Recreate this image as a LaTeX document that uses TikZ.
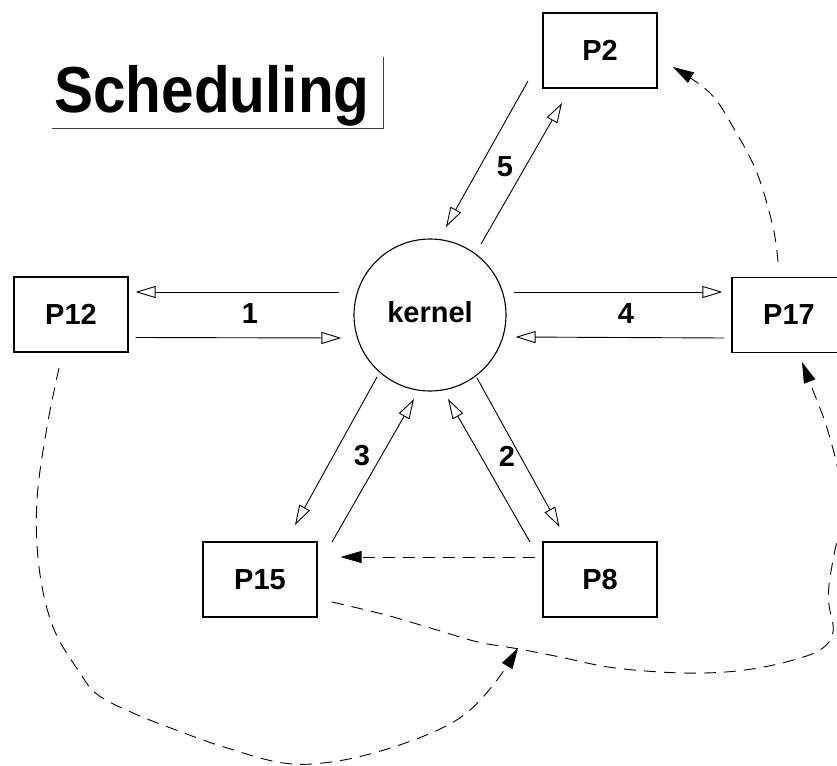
\documentclass[tikz,border=0pt]{standalone}
\usepackage{fontspec}
\setmainfont{Liberation Sans}
\usetikzlibrary{arrows.meta,calc}
\newcommand\lblfnt{\fontsize{29}{29}\selectfont\bfseries}
\newcommand\ttlfnt{\fontsize{65}{65}\selectfont\bfseries}
\begin{document}
\begin{tikzpicture}[x=1pt,y=-1pt,
  box/.style={draw, line width=1.1pt, minimum width=114pt, minimum height=75pt, inner sep=0pt, font=\lblfnt},
  lbl/.style={inner sep=0pt, font=\lblfnt},
  oarr/.style={line width=0.9pt, -{Triangle[open, length=20pt, width=12pt, line width=0.9pt]}},
  darr/.style={line width=0.9pt, dash pattern=on 12pt off 8pt, -{Triangle[length=21pt, width=12pt]}}]
\fill[white] (0,0) rectangle (837,765);
\useasboundingbox (0,0) rectangle (837,765);
\clip (0,0) rectangle (837,765);

% title
\node[anchor=base west, inner sep=0pt, font=\ttlfnt] (title) at (54,113) {\scalebox{0.9}[1]{Scheduling}};
\coordinate (tl) at (383,57);
\coordinate (tb) at (52,128);
\draw[line width=1pt, black!75] (tl) |- (tb);

% nodes
\node[circle, draw, line width=1.1pt, minimum size=152pt, inner sep=0pt] (kernel) at (430,315) {};
\node[lbl] (ktext) at (430,312) {kernel};
\node[box] (p12) at (71,314.5) {P12};
\node[box] (p17) at (789,315) {P17};
\node[box] (p2) at (600,50.5) {P2};
\node[box] (p15) at (260,579.5) {P15};
\node[box] (p8) at (600,579.5) {P8};

% horizontal arrows
\draw[oarr] ([shift={(-14,-23)}]kernel.west) -- ([shift={(7,-22.5)}]p12.east);
\draw[oarr] ([shift={(7,23)}]p12.east) -- ([shift={(-12,23)}]kernel.west);
\draw[oarr] ([shift={(7,-23)}]kernel.east) -- ([shift={(-9,-23)}]p17.west);
\draw[oarr] ([shift={(-7,23)}]p17.west) -- ([shift={(9,22)}]kernel.east);

% diagonal arrows
\draw[oarr] ([shift={(-72,30.5)}]p2.center) -- ([shift={(16,-88)}]kernel.center);
\draw[oarr] ([shift={(51,-71)}]kernel.center) -- ([shift={(-38,52.5)}]p2.center);
\draw[oarr] ([shift={(-53,62)}]kernel.center) -- ([shift={(35,-54.5)}]p15.center);
\draw[oarr] ([shift={(72,-37.5)}]p15.center) -- ([shift={(-16,84)}]kernel.center);
\draw[oarr] ([shift={(47,63)}]kernel.center) -- ([shift={(-40.5,-52.5)}]p8.center);
\draw[oarr] ([shift={(-70,-37.5)}]p8.center) -- ([shift={(18,84)}]kernel.center);

% labels
\node[lbl] (l1) at (250,314) {1};
\node[lbl] (l4) at (626,314) {4};
\node[lbl] (l5) at (505,167) {5};
\node[lbl] (l3) at (362,456) {3};
\node[lbl] (l2) at (507,456) {2};

% dashed arrows
\coordinate (a1) at ([shift={(-11,-53)}]p17.center);
\coordinate (a2) at ([shift={(73,16.5)}]p2.center);
\draw[darr] plot[smooth, tension=0.6] coordinates {(a1) (773,227) (757,173) (733,127) (710,93) (a2)};

\draw[darr] ([shift={(-7,-22.5)}]p8.west) -- ([shift={(23,-22.5)}]p15.east);

\coordinate (b1) at ([shift={(-12,53.5)}]p12.center);
\coordinate (b2) at (518,648);
\draw[darr] plot[smooth, tension=0.6] coordinates {(b1) (47,427) (37,500) (39,567) (53,627) (80,673) (98,695) (133,713) (176,730) (224,747) (283,763) (331,762) (384,750) (438,730) (470,710) (497,680) (b2)};

\coordinate (c1) at ([shift={(72,22.5)}]p15.center);
\coordinate (c2) at ([shift={(13,47)}]p17.center);
\draw[darr] plot[smooth, tension=0.6] coordinates {(c1) (386,615) (437,630) (478,642) (519,649) (560,657) (608,667) (660,672) (704,673) (745,670) (786,662) (820,650) (833,632) (829,605) (829,585) (833,560) (842,510) (838,470) (826,425) (814,393) (c2)};
\end{tikzpicture}
\end{document}
